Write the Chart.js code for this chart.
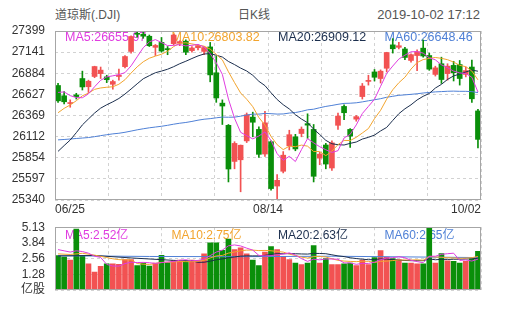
<!DOCTYPE html>
<html>
<head>
<meta charset="utf-8">
<title>道琼斯(.DJI) 日K线</title>
<script src="https://cdn.jsdelivr.net/npm/chart.js@4.4.1/dist/chart.umd.min.js"></script>
<style>
  html, body { margin: 0; padding: 0; background: #fff; }
  #wrap { position: relative; width: 505px; height: 310px; overflow: hidden;
          font-family: "Liberation Sans", Arial, "Noto Sans CJK SC", sans-serif; }
  .title { position: absolute; top: 7px; font-size: 12px; line-height: 16px; color: #555; white-space: nowrap; }
  #t-name { left: 55px; }
  #t-type { left: 238px; }
  #t-time { right: 25px; font-size: 13px; }
  #main-chart { position: absolute; left: 0; top: 0; }
  #vol-chart { position: absolute; left: 0; top: 210px; }
</style>
</head>
<body>
<div id="wrap">
  <span class="title" id="t-name">道琼斯(.DJI)</span>
  <span class="title" id="t-type">日K线</span>
  <span class="title" id="t-time">2019-10-02 17:12</span>
  <canvas id="main-chart" width="505" height="220"></canvas>
  <canvas id="vol-chart" width="505" height="100"></canvas>
</div>
<script>
// ---------- DATA ----------
const dates = [
  '06/25', '06/26', '06/27', '06/28',
  '07/01', '07/02', '07/03', '07/05', '07/08', '07/09', '07/10', '07/11', '07/12', '07/15', '07/16',
  '07/17', '07/18', '07/19', '07/22', '07/23', '07/24', '07/25', '07/26', '07/29', '07/30', '07/31',
  '08/01', '08/02', '08/05', '08/06', '08/07', '08/08', '08/09', '08/12', '08/13', '08/14', '08/15',
  '08/16', '08/19', '08/20', '08/21', '08/22', '08/23', '08/26', '08/27', '08/28', '08/29', '08/30',
  '09/03', '09/04', '09/05', '09/06', '09/09', '09/10', '09/11', '09/12', '09/13', '09/16', '09/17',
  '09/18', '09/19', '09/20', '09/23', '09/24', '09/25', '09/26', '09/27', '09/30',
  '10/01', '10/02'
];

const opens = [
  26735, 26610, 26515, 26620, 26820, 26720, 26845, 26880, 26840, 26750,
  26845, 26965, 27150, 27370, 27360, 27335, 27200, 27260, 27180, 27245,
  27250, 27275, 27160, 27195, 27150, 27205, 26890, 26520, 26250, 25810,
  25830, 26060, 26350, 26200, 25900, 26050, 25510, 25690, 26000, 26110,
  26150, 26270, 26200, 25850, 26010, 25730, 26250, 26480, 26200, 26325,
  26600, 26785, 26900, 26820, 26945, 27230, 27200, 27180, 27040, 27100,
  27190, 27100, 26870, 27000, 26880, 26980, 26990, 26870, 26960, 26425
];
const highs = [
  26760, 26660, 26560, 26640, 26910, 26800, 26970, 26960, 26860, 26800,
  26935, 27100, 27340, 27400, 27390, 27350, 27235, 27320, 27210, 27360,
  27280, 27290, 27210, 27230, 27210, 27260, 27090, 26560, 26260, 26050,
  26010, 26400, 26410, 26230, 26420, 26060, 25650, 25930, 26190, 26140,
  26230, 26390, 26260, 25920, 26030, 26060, 26400, 26500, 26210, 26370,
  26760, 26860, 26930, 26925, 27140, 27306, 27260, 27200, 27120, 27170,
  27290, 27130, 26970, 27080, 27000, 27030, 27040, 26960, 27046, 26445
];
const lows = [
  26530, 26510, 26470, 26570, 26680, 26650, 26830, 26820, 26770, 26690,
  26800, 26950, 27130, 27325, 27310, 27210, 27100, 27140, 27110, 27230,
  27220, 27110, 27140, 27170, 27110, 26780, 26530, 26260, 25560, 25720,
  25440, 26040, 26110, 25860, 25870, 25460, 25340, 25670, 25950, 25940,
  26110, 26090, 25560, 25770, 25720, 25700, 26200, 26320, 25980, 26300,
  26570, 26740, 26790, 26765, 26900, 27130, 27180, 27050, 27020, 26915,
  27080, 26920, 26850, 26760, 26800, 26790, 26740, 26840, 26530, 25975
];
const closes = [
  26548.22, 26536.82, 26526.58, 26599.96, 26717.43, 26786.68, 26966.00, 26922.12, 26806.14, 26783.49,
  26860.20, 27088.08, 27332.03, 27359.16, 27335.63, 27219.85, 27222.97, 27154.20, 27171.90, 27349.19,
  27269.97, 27140.98, 27192.45, 27221.35, 27198.02, 26864.27, 26583.42, 26485.01, 25717.74, 26029.52,
  26007.07, 26378.19, 26287.44, 25896.44, 26279.91, 25479.42, 25579.39, 25886.01, 26135.79, 25962.44,
  26202.73, 26252.24, 25628.90, 25898.83, 25777.90, 26036.10, 26362.25, 26403.28, 26118.02, 26355.47,
  26728.15, 26797.46, 26835.51, 26909.43, 27137.04, 27182.45, 27219.52, 27076.82, 27110.80, 27147.08,
  27094.79, 26935.07, 26949.99, 26807.77, 26970.71, 26891.12, 26820.25, 26916.83, 26573.04, 26078.62
];
// closes before 06/25 (04/01 .. 06/24), needed for the moving averages
const priorCloses = [
  26258.42, 26179.13, 26218.13, 26384.63, 26424.99, 26341.02, 26150.58, 26157.16, 26143.05, 26412.30,
  26384.77, 26452.66, 26449.54, 26559.54, 26511.05, 26656.39, 26597.05, 26462.08, 26543.33, 26554.39,
  26592.91, 26430.14, 26307.79, 26504.95, 26438.48, 25965.09, 25967.33, 25828.36, 25942.37, 25324.99,
  25532.05, 25648.02, 25862.68, 25764.00, 25679.90, 25877.33, 25776.61, 25490.47, 25585.69, 25347.77,
  25126.41, 25169.88, 24815.04, 24819.78, 25332.18, 25539.57, 25720.66, 25983.94, 26062.68, 26048.51,
  26004.83, 26106.77, 26089.61, 26112.53, 26465.54, 26504.00, 26753.17, 26719.13, 26727.54
];

// volume, 亿股
const volumes = [
  2.81, 2.69, 2.44, 4.98, 2.79, 2.13, 1.47, 1.93, 2.13, 2.13,
  2.10, 2.49, 2.49, 2.00, 2.20, 1.95, 2.20, 2.84, 2.25, 2.40,
  2.44, 2.40, 2.44, 2.40, 2.95, 3.85, 3.85, 3.25, 4.15, 3.30,
  3.45, 2.95, 2.44, 2.00, 3.10, 3.54, 3.30, 2.74, 2.49, 2.20,
  2.08, 2.20, 3.62, 2.20, 2.57, 2.08, 2.08, 2.13, 2.20, 2.00,
  2.44, 2.08, 2.64, 3.22, 2.69, 2.57, 2.49, 2.20, 2.20, 2.13,
  2.13, 5.13, 2.20, 2.98, 2.38, 2.35, 2.20, 2.35, 2.55, 3.15
];
const volMa5Head = [[0, 3.30], [1, 3.20], [2, 3.10], [3, 3.20]];
const volMa10Head = [[0, 2.95], [2, 2.90], [4, 3.00], [6, 2.85], [8, 2.65]];
const volMa20Head = [[0, 2.78], [6, 2.82], [12, 2.62]];
const volMa60Read = [[0, 2.80], [15, 2.74], [30, 2.72], [45, 2.76], [58, 2.70], [69, 2.65]];

const priceTicks = [27399, 27141, 26884, 26627, 26369, 26112, 25854, 25597, 25340];
const volTicks = [5.13, 3.84, 2.56, 1.28, 0];
const volTickLabels = ['5.13', '3.84', '2.56', '1.28', '亿股'];

const maNames = ['MA5', 'MA10', 'MA20', 'MA60'];
const maPeriods = [5, 10, 20, 60];
const maLast = ['26655.97', '26803.82', '26909.12', '26648.46'];
const volMaLast = ['2.52', '2.75', '2.63', '2.65'];

// ---------- STYLE ----------
const RED = '#f25252';
const GREEN = '#0a8f0a';
const MA_COLORS = ['#e03ce0', '#f2a42e', '#1b2e4d', '#4f80d6'];
const GRID = '#d2d2d2';
const LABEL = '#333';
const FONT = '"Liberation Sans", Arial, "Noto Sans CJK SC", sans-serif';

const upDown = closes.map((c, i) => (c >= opens[i] ? RED : GREEN));
const gridX = Array.from({ length: 9 }, (_, k) => k * dates.length / 8);
const xLabelIdx = { 0: 0, 35: 35, 70: 69 };

function priceMA(n) {
  const all = priorCloses.concat(closes);
  const off = priorCloses.length;
  return closes.map((_, i) => {
    let s = 0;
    for (let k = off + i - n + 1; k <= off + i; k++) s += all[k];
    return s / n;
  });
}

function fromPairs(pairs) {
  const out = new Array(dates.length).fill(null);
  pairs.forEach(([i, v]) => { out[i] = v; });
  return out;
}

function volumeMA(n, head) {
  const out = fromPairs(head);
  for (let i = n - 1; i < volumes.length; i++) {
    let s = 0;
    for (let k = i - n + 1; k <= i; k++) s += volumes[k];
    out[i] = s / n;
  }
  return out;
}

function lineSet(data, k) {
  return {
    type: 'line', data, borderColor: MA_COLORS[k], borderWidth: 1,
    pointRadius: 0, tension: 0, spanGaps: true, order: 0,
    xAxisID: 'x', yAxisID: 'y'
  };
}

// legend text under the marks, frame on top
const framePlugin = {
  id: 'frame',
  beforeDatasetsDraw(chart, args, opts) {
    const { ctx, chartArea: a } = chart;
    ctx.save();
    ctx.font = opts.font;
    ctx.textBaseline = 'middle';
    opts.items.forEach((t, k) => {
      ctx.fillStyle = MA_COLORS[k];
      ctx.fillText(t, a.left + 10 + k * a.width / 4, a.top + opts.dy);
    });
    ctx.restore();
  },
  afterDraw(chart) {
    const { ctx, chartArea: a } = chart;
    ctx.save();
    ctx.strokeStyle = '#a6a6a6';
    ctx.lineWidth = 1;
    ctx.strokeRect(Math.round(a.left) + 0.5, Math.round(a.top) + 0.5,
      Math.round(a.width) - 1, Math.round(a.height) - 1);
    ctx.restore();
  }
};

function gridAxis(showLabels) {
  return {
    type: 'linear', position: 'bottom', min: 0, max: dates.length,
    afterBuildTicks: s => { s.ticks = gridX.map(v => ({ value: v })); },
    afterFit: s => { s.height = 20; },
    grid: { color: GRID, drawTicks: false },
    border: { display: false, dash: [3, 3] },
    ticks: {
      display: showLabels, autoSkip: false, maxRotation: 0, align: 'inner', padding: 2,
      color: LABEL, font: { family: FONT, size: 12 },
      callback: v => (xLabelIdx[v] === undefined ? '' : dates[xLabelIdx[v]])
    }
  };
}

function valueAxis(min, max, ticks, label) {
  return {
    type: 'linear', min, max,
    afterBuildTicks: s => { s.ticks = ticks.map(v => ({ value: v })); },
    afterFit: s => { s.width = 55; },
    grid: { color: GRID, drawTicks: false },
    border: { display: false, dash: [3, 3] },
    ticks: { autoSkip: false, padding: 10, color: LABEL, font: { family: FONT, size: 12 }, callback: label }
  };
}

// ---------- K LINE ----------
new Chart(document.getElementById('main-chart'), {
  data: {
    labels: dates,
    datasets: [
      ...maPeriods.map((n, k) => lineSet(priceMA(n), k)),
      {
        type: 'bar', data: lows.map((l, i) => [l, highs[i]]), backgroundColor: upDown,
        barThickness: 1, grouped: false, order: 2, xAxisID: 'x', yAxisID: 'y'
      },
      {
        type: 'bar', data: opens.map((o, i) => [o, closes[i]]), backgroundColor: upDown,
        barThickness: 5, minBarLength: 1, grouped: false, order: 1, xAxisID: 'x', yAxisID: 'y'
      }
    ]
  },
  options: {
    responsive: false,
    animation: false,
    layout: { padding: { top: 31, right: 24, left: 0, bottom: 0 } },
    plugins: {
      legend: { display: false },
      tooltip: { enabled: false },
      frame: { items: maNames.map((m, k) => m + ':' + maLast[k]), font: '12.5px ' + FONT, dy: 6.5 }
    },
    scales: {
      x: { type: 'category', labels: dates, offset: true, display: false },
      xg: gridAxis(true),
      y: valueAxis(priceTicks[priceTicks.length - 1], priceTicks[0], priceTicks, v => String(v))
    }
  },
  plugins: [framePlugin]
});

// ---------- VOLUME ----------
const volMAs = [
  volumeMA(5, volMa5Head),
  volumeMA(10, volMa10Head),
  volumeMA(20, volMa20Head),
  fromPairs(volMa60Read)
];

new Chart(document.getElementById('vol-chart'), {
  data: {
    labels: dates,
    datasets: [
      ...volMAs.map((d, k) => lineSet(d, k)),
      {
        type: 'bar', data: volumes, backgroundColor: upDown,
        barThickness: 5, order: 1, xAxisID: 'x', yAxisID: 'y'
      }
    ]
  },
  options: {
    responsive: false,
    animation: false,
    layout: { padding: { top: 10, right: 24, left: 0, bottom: 0 } },
    plugins: {
      legend: { display: false },
      tooltip: { enabled: false },
      frame: { items: maNames.map((m, k) => m + ':' + volMaLast[k] + '亿'), font: '12px ' + FONT, dy: 8.5 }
    },
    scales: {
      x: { type: 'category', labels: dates, offset: true, display: false },
      xg: gridAxis(false),
      y: valueAxis(0, volTicks[0], volTicks, v => volTickLabels[volTicks.indexOf(v)])
    }
  },
  plugins: [framePlugin]
});
</script>
</body>
</html>
